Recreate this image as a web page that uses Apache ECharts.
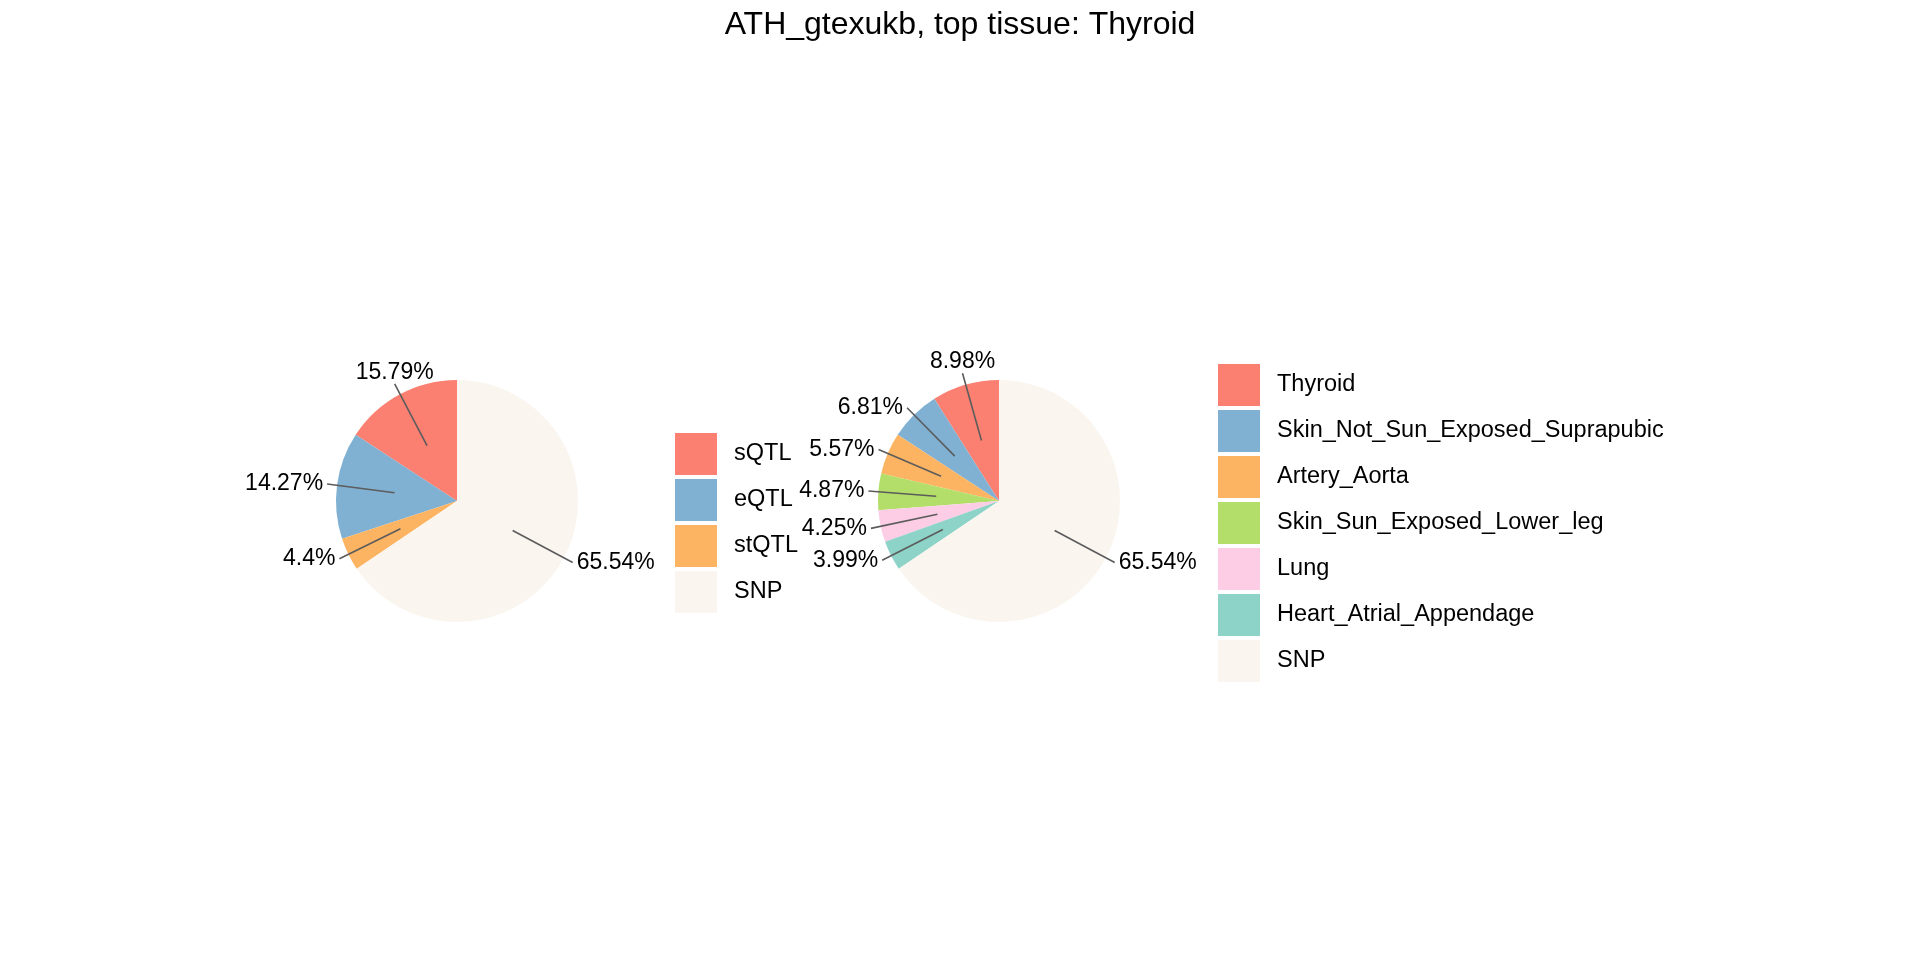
<!DOCTYPE html>
<html>
<head>
<meta charset="utf-8">
<script src="https://cdn.jsdelivr.net/npm/echarts@6/dist/echarts.min.js"></script>
<style>
html,body{margin:0;padding:0;background:#fff;}
#chart{width:1920px;height:960px;}
</style>
</head>
<body>
<div id="chart"></div>
<script>
const titleText = 'ATH_gtexukb, top tissue: Thyroid';
const qtlCategories = ['sQTL', 'eQTL', 'stQTL', 'SNP'];
const qtlValues = [15.79, 14.27, 4.4, 65.54];
const qtlColors = ['#FB8072', '#80B1D3', '#FDB462', '#FAF5EF'];
const tissueCategories = ['Thyroid', 'Skin_Not_Sun_Exposed_Suprapubic', 'Artery_Aorta', 'Skin_Sun_Exposed_Lower_leg', 'Lung', 'Heart_Atrial_Appendage', 'SNP'];
const tissueValues = [8.98, 6.81, 5.57, 4.87, 4.25, 3.99, 65.54];
const tissueColors = ['#FB8072', '#80B1D3', '#FDB462', '#B3DE69', '#FCCDE5', '#8DD3C7', '#FAF5EF'];

const FONT = "'Liberation Sans', Arial, Helvetica, sans-serif";
const R = 121;
const INNER_R = 63;

function makeData(cats, vals, cols) {
  return cats.map((c, i) => ({ name: c, value: vals[i], itemStyle: { color: cols[i] } }));
}

function topLabelLayout(params) {
  const p = params.labelLinePoints;
  if (!p) return {};
  const dx = p[1][0] - p[0][0];
  const dy = p[1][1] - p[0][1];
  if (dy < 0 && Math.abs(dx) < 0.7 * Math.abs(dy)) {
    return { x: p[1][0], y: p[1][1] - 2, align: 'center', verticalAlign: 'bottom' };
  }
  return {};
}

function pieSeries(center, data) {
  return {
    type: 'pie',
    center: center,
    radius: R,
    startAngle: 90,
    clockwise: false,
    silent: true,
    z: 2,
    avoidLabelOverlap: false,
    label: { show: false },
    labelLine: { show: false },
    itemStyle: { borderWidth: 0 },
    emphasis: { disabled: true },
    data: data
  };
}

function labelSeries(center, data) {
  return {
    type: 'pie',
    center: center,
    radius: INNER_R,
    startAngle: 90,
    clockwise: false,
    silent: true,
    z: 5,
    avoidLabelOverlap: false,
    legendHoverLink: false,
    itemStyle: { color: 'rgba(0,0,0,0)', borderWidth: 0 },
    emphasis: { disabled: true },
    label: {
      show: true,
      position: 'outside',
      formatter: p => p.value + '%',
      fontFamily: FONT,
      fontSize: 23,
      color: '#000',
      distanceToLabelLine: 4
    },
    labelLine: {
      show: true,
      length: 68,
      length2: 0,
      smooth: false,
      lineStyle: { color: '#5c5c5c', width: 1.6 }
    },
    labelLayout: topLabelLayout,
    data: data.map(d => ({ name: d.name, value: d.value, itemStyle: { color: 'rgba(0,0,0,0)' } }))
  };
}

const qtlData = makeData(qtlCategories, qtlValues, qtlColors);
const tissueData = makeData(tissueCategories, tissueValues, tissueColors);

const legendCommon = {
  orient: 'vertical',
  itemWidth: 42,
  itemHeight: 42,
  itemGap: 4,
  padding: 0,
  icon: 'rect',
  selectedMode: false,
  textStyle: { fontFamily: FONT, fontSize: 23.5, color: '#000', padding: [0, 0, 0, 12] }
};

const option = {
  backgroundColor: '#fff',
  animation: false,
  title: {
    text: titleText,
    left: 'center',
    top: 4,
    textStyle: { fontFamily: FONT, fontSize: 32, fontWeight: 'normal', color: '#000' }
  },
  legend: [
    Object.assign({}, legendCommon, { left: 675, top: 433, data: qtlCategories }),
    Object.assign({}, legendCommon, { left: 1218, top: 364, data: tissueCategories })
  ],
  series: [
    pieSeries([457, 501], qtlData),
    pieSeries([999, 501], tissueData),
    labelSeries([457, 501], qtlData),
    labelSeries([999, 501], tissueData)
  ]
};

const chart = echarts.init(document.getElementById('chart'), null, { renderer: 'canvas' });
chart.setOption(option);
</script>
</body>
</html>
